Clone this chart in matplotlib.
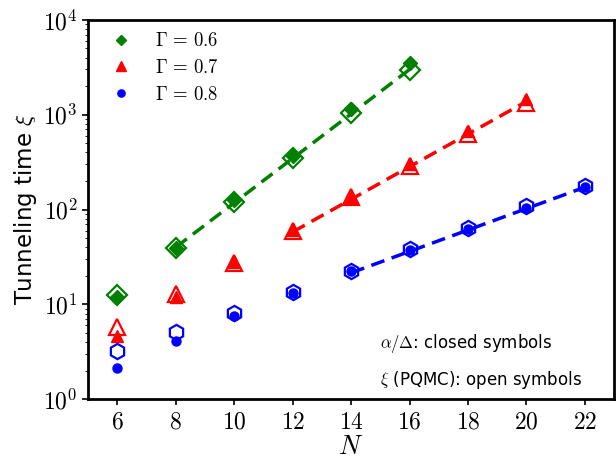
import matplotlib
matplotlib.use("Agg")
import matplotlib.pyplot as plt
from matplotlib.ticker import FixedLocator, FixedFormatter, NullFormatter

plt.rcParams['mathtext.fontset'] = 'cm'
plt.rcParams['font.family'] = ['DejaVu Sans']

N6 = [6, 8, 10, 12, 14, 16]
N7 = [6, 8, 10, 12, 14, 16, 18, 20]
N8 = [6, 8, 10, 12, 14, 16, 18, 20, 22]

# closed symbols (alpha/Delta)
g06_closed = [11.9, 39, 126, 367, 1150, 3500]
g07_closed = [4.6, 11.9, 28, 61, 135, 302, 680, 1450]
g08_closed = [2.12, 4.1, 7.5, 13.1, 22.4, 37.4, 62, 104, 173]

# open symbols (xi PQMC)
g06_open = [12.5, 39, 120, 350, 1040, 2950]
g07_open = [5.75, 12.8, 27, 60, 135, 290, 630, 1330]
g08_open = [3.2, 5.1, 8.1, 13.5, 22.4, 38, 63.5, 108, 177]

# dashed fit lines (endpoints)
fit06_N = [8, 16]
fit06_y = [40, 3000]
fit07_N = [12, 20]
fit07_y = [58, 1380]
fit08_N = [14, 22]
fit08_y = [21.5, 172]

labels = [r'$\Gamma\,=\,0.6$', r'$\Gamma\,=\,0.7$', r'$\Gamma\,=\,0.8$']
xticks = [6, 8, 10, 12, 14, 16, 18, 20, 22]
yticks = [1, 10, 100, 1000, 10000]
ytick_labels = [r'$10^{0}$', r'$10^{1}$', r'$10^{2}$', r'$10^{3}$', r'$10^{4}$']

fig = plt.figure(figsize=(6.16, 4.62), dpi=100)
ax = fig.add_axes([0.143, 0.136, 0.854, 0.821])

ax.plot(fit06_N, fit06_y, '--', color='green', lw=2.5, dashes=(4, 2.2), zorder=1)
ax.plot(fit07_N, fit07_y, '--', color='red', lw=2.5, dashes=(4, 2.2), zorder=1)
ax.plot(fit08_N, fit08_y, '--', color='blue', lw=2.5, dashes=(4, 2.2), zorder=1)

ax.plot(N6, g06_open, 'D', ms=10, mfc='none', mec='green', mew=1.6, ls='none', zorder=2)
ax.plot(N7, g07_open, '^', ms=11, mfc='none', mec='red', mew=1.6, ls='none', zorder=2)
ax.plot(N8, g08_open, 'h', ms=11, mfc='none', mec='blue', mew=1.6, ls='none', zorder=2)

ax.plot(N6, g06_closed, 'D', ms=7, color='green', ls='none', label=labels[0], zorder=3)
ax.plot(N7, g07_closed, '^', ms=9, color='red', ls='none', label=labels[1], zorder=3)
ax.plot(N8, g08_closed, 'o', ms=6.5, color='blue', ls='none', label=labels[2], zorder=3)

ax.set_yscale('log')
ax.set_ylim(1, 1e4)
ax.set_xlim(5, 23)
ax.set_xticks(xticks)
ax.set_xticklabels([r'$%d$' % v for v in xticks])
ax.yaxis.set_major_locator(FixedLocator(yticks))
ax.yaxis.set_major_formatter(FixedFormatter(ytick_labels))
ax.yaxis.set_minor_formatter(NullFormatter())
ax.tick_params(axis='both', labelsize=17, width=1.2, length=4)
ax.tick_params(axis='y', which='minor', length=2.5)
for s in ax.spines.values():
    s.set_linewidth(2)

ax.set_xlabel(r'$N$', fontsize=19, labelpad=0)
ax.set_ylabel(r'Tunneling time $\xi$', fontsize=16.5, labelpad=3)

leg = ax.legend(loc='upper left', frameon=False, fontsize=13.5, handletextpad=1.2,
                borderaxespad=0.2, labelspacing=0.42, handlelength=1.2,
                markerscale=0.8, bbox_to_anchor=(0.02, 1.0))

ax.text(0.555, 0.148, r'$\alpha/\Delta$: closed symbols', transform=ax.transAxes,
        fontsize=12, ha='left', va='center')
ax.text(0.555, 0.050, r'$\xi$ (PQMC): open symbols', transform=ax.transAxes,
        fontsize=12, ha='left', va='center')

fig.savefig('out.png', dpi=100)
